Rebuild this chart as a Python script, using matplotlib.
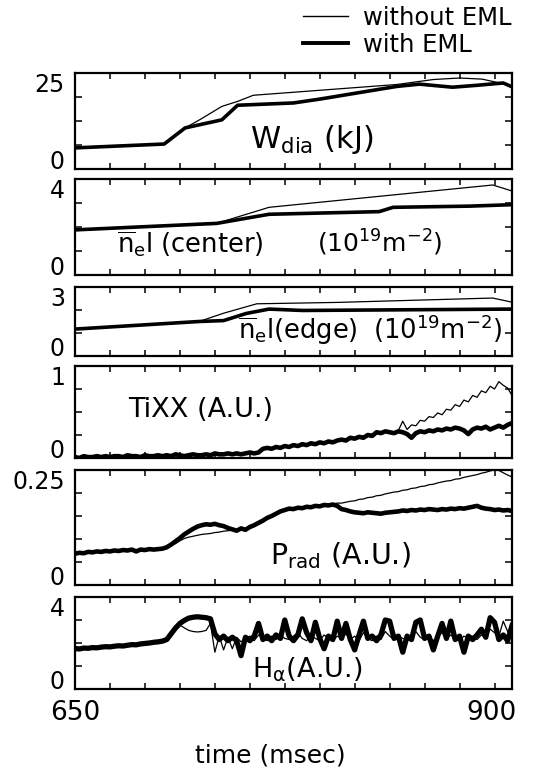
import numpy as np
import matplotlib
matplotlib.use("Agg")
import matplotlib.pyplot as plt
from matplotlib.lines import Line2D

plt.rcParams['font.family'] = ['DejaVu Sans']
plt.rcParams['mathtext.fontset'] = 'dejavusans'
plt.rcParams['mathtext.default'] = 'regular'

# --- smooth traces (digitised vertices) ---
w_with_t = [650, 701, 713, 723, 734, 743, 775, 790, 806, 834, 847, 866, 880, 895, 900]
w_with = [5.5, 6.5, 10.7, 11.7, 12.8, 16.6, 17.2, 18.2, 19.4, 21.5, 22.1, 21.3, 21.8, 22.4, 21.4]
w_without_t = [650, 701, 713, 722, 734, 743, 752, 790, 834, 855, 870, 883, 892, 900]
w_without = [5.5, 6.5, 10.7, 13.0, 16.3, 17.6, 19.2, 20.5, 22.0, 23.3, 23.7, 23.4, 22.5, 21.5]

nc_with_t = [650, 731, 761, 824, 832, 876, 900]
nc_with = [1.88, 2.15, 2.53, 2.64, 2.82, 2.87, 2.93]
nc_without_t = [650, 731, 761, 889, 900]
nc_without = [1.88, 2.15, 2.82, 3.75, 3.5]

ne_with_t = [650, 721, 735, 748, 761, 780, 900]
ne_with = [1.17, 1.50, 1.54, 1.85, 2.04, 1.98, 2.04]
ne_without_t = [650, 721, 735, 754, 800, 889, 900]
ne_without = [1.17, 1.50, 1.86, 2.27, 2.33, 2.52, 2.34]

# --- noisy traces, sampled every 2.5 msec from 650 to 900 ---
t_noisy = np.arange(650, 900.1, 2.5)

tixx_with = [
    0.01, 0.00, 0.02, 0.01, 0.01, 0.02, 0.01, 0.02, 0.01, 0.02,
    0.02, 0.01, 0.03, 0.02, 0.02, 0.01, 0.03, 0.02, 0.02, 0.03,
    0.02, 0.03, 0.02, 0.04, 0.03, 0.02, 0.03, 0.04, 0.03, 0.03,
    0.04, 0.03, 0.05, 0.04, 0.04, 0.05, 0.04,
    0.05, 0.04, 0.05, 0.06, 0.05, 0.06, 0.10, 0.11, 0.10, 0.12, 0.11, 0.13, 0.12, 0.14, 0.13, 0.15,
    0.14, 0.16, 0.15, 0.17, 0.16, 0.18, 0.17, 0.19, 0.20, 0.19, 0.22, 0.21, 0.23, 0.22, 0.25, 0.24,
    0.28, 0.27, 0.29, 0.28, 0.27, 0.29, 0.28, 0.26, 0.22, 0.27, 0.29, 0.28, 0.30, 0.29, 0.31, 0.30,
    0.32, 0.31, 0.33, 0.32, 0.30, 0.26, 0.31, 0.33, 0.32, 0.34, 0.31, 0.33, 0.35, 0.33, 0.36, 0.38,
]
tixx_without = [
    0.01, 0.01, 0.02, 0.01, 0.02, 0.01, 0.02, 0.01, 0.02, 0.02,
    0.01, 0.02, 0.02, 0.03, 0.02, 0.02, 0.02, 0.03, 0.02, 0.03,
    0.03, 0.02, 0.03, 0.03, 0.04, 0.03, 0.03, 0.04, 0.03, 0.04,
    0.04, 0.04, 0.05, 0.04, 0.05, 0.04, 0.05,
    0.05, 0.05, 0.06, 0.05, 0.06, 0.07, 0.09, 0.10, 0.11, 0.11, 0.12, 0.12, 0.13, 0.13, 0.14, 0.14,
    0.15, 0.15, 0.16, 0.16, 0.17, 0.17, 0.18, 0.19, 0.19, 0.20, 0.21, 0.22, 0.23, 0.24, 0.25, 0.26,
    0.27, 0.28, 0.28, 0.29, 0.28, 0.30, 0.40,
    0.31, 0.36, 0.35, 0.41, 0.40, 0.45, 0.44, 0.49, 0.47, 0.53, 0.52, 0.58, 0.56, 0.63, 0.61,
    0.68, 0.66, 0.73, 0.71, 0.78, 0.75, 0.83, 0.79, 0.76, 0.68,
]

prad_with = [
    0.068, 0.070, 0.069, 0.072, 0.071, 0.073, 0.072, 0.074, 0.073, 0.075, 0.074,
    0.076, 0.075, 0.077, 0.073, 0.077, 0.076, 0.078, 0.077, 0.078, 0.079,
    0.082, 0.088, 0.095, 0.102, 0.110, 0.116, 0.122, 0.127, 0.130,
    0.132, 0.131, 0.133, 0.130, 0.128, 0.124, 0.121,
    0.118, 0.123, 0.120, 0.126, 0.130, 0.135, 0.140, 0.146, 0.150, 0.155, 0.160, 0.163,
    0.166, 0.165, 0.168, 0.167, 0.170, 0.169, 0.172, 0.171, 0.174, 0.173, 0.175, 0.172,
    0.165, 0.163, 0.160, 0.158, 0.157, 0.156, 0.158, 0.157, 0.156, 0.155, 0.157, 0.158,
    0.159, 0.160, 0.162, 0.161, 0.163, 0.162, 0.164, 0.163, 0.165, 0.164, 0.163, 0.165,
    0.164, 0.166, 0.165, 0.167, 0.166, 0.168, 0.170, 0.172, 0.168, 0.166, 0.165, 0.163,
    0.164, 0.162, 0.163, 0.161,
]
prad_without = [
    0.069, 0.071, 0.070, 0.071, 0.072, 0.072, 0.073, 0.073, 0.074, 0.074, 0.075,
    0.075, 0.076, 0.076, 0.076, 0.077, 0.077, 0.077, 0.078, 0.078, 0.079,
    0.081, 0.085, 0.090, 0.096, 0.101, 0.104, 0.106, 0.108, 0.110,
    0.111, 0.112, 0.114, 0.115, 0.117, 0.118, 0.119,
    0.120, 0.122, 0.121, 0.126, 0.130, 0.134, 0.140, 0.145, 0.150, 0.154, 0.159, 0.162,
    0.165, 0.166, 0.167, 0.168, 0.169, 0.170, 0.171, 0.172, 0.173, 0.175, 0.176, 0.178,
    0.178, 0.180, 0.182, 0.183, 0.186, 0.187, 0.190, 0.191, 0.194, 0.195, 0.198, 0.200,
    0.202, 0.203, 0.206, 0.207, 0.210, 0.211, 0.214, 0.215, 0.218, 0.219, 0.222, 0.224,
    0.226, 0.227, 0.230, 0.231, 0.234, 0.236, 0.238, 0.240, 0.243, 0.245, 0.248, 0.250,
    0.249, 0.244, 0.239, 0.235,
]

ha_with = [
    1.76, 1.74, 1.78, 1.77, 1.80, 1.79, 1.82, 1.84, 1.83, 1.86, 1.88,
    1.87, 1.90, 1.93, 1.92, 1.96, 1.98, 2.00, 2.03, 2.05, 2.08,
    2.15, 2.40, 2.65, 2.85, 2.98, 3.08, 3.12, 3.14, 3.12,
    3.10, 3.05, 2.40, 2.15, 2.30, 2.10, 2.25,
    2.10, 1.45, 2.25, 2.10, 2.30, 2.85, 2.15, 2.30, 2.10, 2.35, 2.20, 3.00,
    2.30, 2.10, 2.35, 3.05, 2.45, 2.10, 2.90, 2.20, 1.75, 2.30, 2.15, 2.95,
    2.20, 2.85, 2.15, 1.70, 2.35, 2.95, 2.20, 2.30, 2.10, 2.35, 3.00, 2.95,
    2.20, 2.30, 1.60, 2.30, 2.15, 2.90, 3.00, 2.20, 2.30, 1.70, 2.30, 2.85,
    2.20, 2.95, 2.15, 2.30, 1.60, 2.30, 2.15, 2.35, 2.60, 2.25, 3.10, 2.90,
    2.15, 2.35, 2.10, 2.75,
]
ha_without = [
    1.78, 1.76, 1.77, 1.79, 1.81, 1.80, 1.83, 1.85, 1.84, 1.87, 1.89,
    1.88, 1.91, 1.92, 1.93, 1.95, 1.97, 2.01, 2.02, 2.06, 2.09,
    2.14, 2.38, 2.62, 2.78, 2.66, 2.55, 2.50, 2.48, 2.50,
    2.55, 2.85, 1.60, 2.30, 1.70, 2.25, 1.75,
    2.25, 2.05, 2.20, 2.30, 2.10, 2.35, 2.20, 2.10, 2.30, 2.15, 2.35, 2.20,
    2.15, 2.30, 2.45, 2.20, 2.10, 2.30, 2.20, 2.10, 2.35, 2.20, 2.10, 2.30,
    2.20, 2.40, 2.15, 2.30, 2.10, 2.45, 2.20, 2.10, 2.30, 2.15, 2.50, 2.30,
    2.15, 2.30, 2.20, 2.10, 2.35, 2.50, 2.25, 2.15, 2.30, 2.10, 2.30, 2.45,
    2.20, 2.35, 2.15, 2.10, 2.30, 2.20, 2.30, 2.15, 2.35, 2.25, 2.60, 2.45,
    2.30, 2.95, 2.50, 2.20,
]

W, H = 538, 769
THIN, THICK = 0.9, 2.6


def rect(y_top, y_bot):
    return [75 / W, 1 - y_bot / H, 437 / W, (y_bot - y_top) / H]


def setup(ax, top, minor, top_label):
    ax.set_xlim(650, 900)
    ax.set_ylim(0, top)
    ax.set_xticks(np.arange(670, 891, 20))
    ax.set_yticks(minor)
    ax.tick_params(direction='in', top=True, right=True, labelbottom=False,
                   labelleft=False, width=1.1, color='black')
    ax.tick_params(axis='x', length=4)
    ax.tick_params(axis='y', length=5)
    for s in ax.spines.values():
        s.set_linewidth(1.6)
    ax.text(-0.023, 1.0, top_label, transform=ax.transAxes, ha='right', va='top', fontsize=17)
    ax.text(-0.023, 0.0, '0', transform=ax.transAxes, ha='right', va='baseline', fontsize=17)


def pair(ax, t1, y1, t2, y2, thick=THICK):
    ax.plot(t1, y1, color='black', lw=THIN)
    ax.plot(t2, y2, color='black', lw=thick, solid_joinstyle='round')


def main():
    fig = plt.figure(figsize=(W / 100, H / 100), dpi=100)

    ax1 = fig.add_axes(rect(73, 169))
    setup(ax1, 25, [6.25, 12.5, 18.75], '25')
    pair(ax1, w_without_t, w_without, w_with_t, w_with)
    ax1.text(0.40, 0.22, r'$W_{dia}$ (kJ)', transform=ax1.transAxes, va='baseline', fontsize=22)

    ax2 = fig.add_axes(rect(179, 275))
    setup(ax2, 4, [1, 2, 3], '4')
    pair(ax2, nc_without_t, nc_without, nc_with_t, nc_with)
    ax2.text(0.096, 0.235, r'$\overline{n}_e$l (center)', transform=ax2.transAxes,
             va='baseline', fontsize=18.5)
    ax2.text(0.554, 0.235, r'(10$^{19}$m$^{-2}$)', transform=ax2.transAxes,
             va='baseline', fontsize=18)

    ax3 = fig.add_axes(rect(287, 356))
    setup(ax3, 3, [1, 2], '3')
    pair(ax3, ne_without_t, ne_without, ne_with_t, ne_with)
    ax3.text(0.373, 0.24, r'$\overline{n}_e$l(edge)', transform=ax3.transAxes,
             va='baseline', fontsize=18.5)
    ax3.text(0.682, 0.24, r'(10$^{19}$m$^{-2}$)', transform=ax3.transAxes,
             va='baseline', fontsize=18.5)

    ax4 = fig.add_axes(rect(366, 458))
    setup(ax4, 1, [0.25, 0.5, 0.75], '1')
    pair(ax4, t_noisy, tixx_without, t_noisy, tixx_with, thick=3.3)
    ax4.text(0.121, 0.45, 'TiXX (A.U.)', transform=ax4.transAxes, va='baseline', fontsize=19.5)

    ax5 = fig.add_axes(rect(470, 585))
    setup(ax5, 0.25, [0.05, 0.1, 0.15, 0.2], '0.25')
    pair(ax5, t_noisy, prad_without, t_noisy, prad_with, thick=3.3)
    ax5.text(0.446, 0.185, r'$P_{rad}$ (A.U.)', transform=ax5.transAxes, va='baseline', fontsize=20.5)

    ax6 = fig.add_axes(rect(597, 689))
    setup(ax6, 4, [1, 2, 3], '4')
    pair(ax6, t_noisy, ha_without, t_noisy, ha_with, thick=3.8)
    ax6.text(0.405, 0.13, r'$H_{\alpha}$(A.U.)', transform=ax6.transAxes, va='baseline', fontsize=19.5)
    ax6.text(0.0, -0.337, '650', transform=ax6.transAxes, ha='center', va='baseline', fontsize=19)
    ax6.text(1.011, -0.337, '900', transform=ax6.transAxes, ha='right', va='baseline', fontsize=19)

    fig.text(270 / W, 1 - 763 / H, 'time (msec)', ha='center', va='baseline', fontsize=18)

    # legend drawn by hand, top right
    fig.add_artist(Line2D([303 / W, 348 / W], [1 - 16 / H] * 2, lw=1.0, color='black'))
    fig.add_artist(Line2D([303 / W, 348 / W], [1 - 43 / H] * 2, lw=2.8, color='black'))
    fig.text(363 / W, 1 - 25 / H, 'without EML', va='baseline', fontsize=17.5)
    fig.text(363 / W, 1 - 52 / H, 'with EML', va='baseline', fontsize=17.5)

    fig.savefig('out.png', dpi=100)
    plt.close(fig)


if __name__ == "__main__":
    main()
